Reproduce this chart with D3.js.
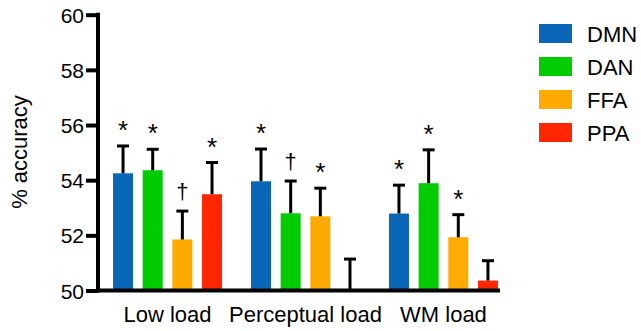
<!DOCTYPE html>
<html>
<head>
<meta charset="utf-8">
<script src="https://cdn.jsdelivr.net/npm/d3@7"></script>
<style>
  body { margin: 0; background: #fff; }
  text { font-family: "Liberation Sans", Arial, sans-serif; fill: #000; }
</style>
</head>
<body>
<div id="chart"></div>
<script>
// data
var groups = ['Low load', 'Perceptual load', 'WM load']
var regions = ['DMN', 'DAN', 'FFA', 'PPA']
var colors = ['#0a66b6', '#00cc00', '#ffaa00', '#ff2600']
var means = [
  [54.25, 54.36, 51.85, 53.49],
  [53.96, 52.80, 52.69, 50.00],
  [52.79, 53.89, 51.93, 50.36]
]
var errs = [
  [0.99, 0.76, 1.03, 1.15],
  [1.17, 1.17, 1.02, 1.14],
  [1.03, 1.21, 0.82, 0.72]
]
var marks = [
  ['*', '*', '\u2020', '*'],
  ['*', '\u2020', '*', ''],
  ['*', '*', '*', '']
]
var yTicks = [50, 52, 54, 56, 58, 60]

var width = 641
var height = 331

var svg = d3.select('#chart').append('svg')
  .attr('width', width)
  .attr('height', height)

var yScale = d3.scaleLinear()
  .domain([50, 60])
  .range([290.5, 14.7])

var xGroup = d3.scaleBand()
  .domain(groups)
  .range([98, 513])
  .paddingInner(0.21)
  .paddingOuter(0.109)

var xInner = d3.scaleBand()
  .domain(regions)
  .range([0, xGroup.bandwidth()])
  .paddingInner(0.326)
  .paddingOuter(0)

var rows = []
groups.forEach(function(g, gi) {
  regions.forEach(function(r, ri) {
    rows.push({ group: g, region: r, color: colors[ri], mean: means[gi][ri], err: errs[gi][ri], mark: marks[gi][ri] })
  })
})

var bx = function(d) { return xGroup(d.group) + xInner(d.region) }
var cx = function(d) { return bx(d) + xInner.bandwidth() / 2 }

// bars
svg.append('g').selectAll('rect')
  .data(rows)
  .enter().append('rect')
  .attr('x', bx)
  .attr('y', d => yScale(d.mean))
  .attr('width', xInner.bandwidth())
  .attr('height', d => yScale(50) - yScale(d.mean))
  .attr('fill', d => d.color)

// error bars (upper only)
var eb = svg.append('g').attr('stroke', '#000').attr('stroke-width', 3)
eb.selectAll('line.stem')
  .data(rows)
  .enter().append('line')
  .attr('class', 'stem')
  .attr('x1', cx).attr('x2', cx)
  .attr('y1', d => yScale(d.mean))
  .attr('y2', d => yScale(d.mean + d.err))
eb.selectAll('line.cap')
  .data(rows)
  .enter().append('line')
  .attr('class', 'cap')
  .attr('x1', d => cx(d) - 6).attr('x2', d => cx(d) + 6)
  .attr('y1', d => yScale(d.mean + d.err))
  .attr('y2', d => yScale(d.mean + d.err))

// significance marks
svg.append('g').selectAll('text')
  .data(rows.filter(d => d.mark))
  .enter().append('text')
  .attr('x', cx)
  .attr('y', d => yScale(d.mean + d.err) - (d.mark === '*' ? 7 : 12))
  .attr('text-anchor', 'middle')
  .style('font-size', d => d.mark === '*' ? '26px' : '22px')
  .text(d => d.mark)

// y axis
var yAxis = d3.axisLeft(yScale)
  .tickValues(yTicks)
  .tickSize(12)
  .tickPadding(2)
  .tickFormat(d3.format('d'))

var yG = svg.append('g')
  .attr('transform', 'translate(98,0)')
  .call(yAxis)
yG.select('.domain').remove()
yG.selectAll('.tick line').attr('stroke', '#000').attr('stroke-width', 4)
yG.selectAll('.tick text')
  .attr('dy', '0.36em')
  .style('font-size', '21px')
  .style('font-family', '"Liberation Sans", Arial, sans-serif')

svg.append('line')
  .attr('x1', 98).attr('x2', 98)
  .attr('y1', yScale(60) - 2).attr('y2', yScale(50) + 2)
  .attr('stroke', '#000').attr('stroke-width', 4)

// x axis line
svg.append('line')
  .attr('x1', 96).attr('x2', 500)
  .attr('y1', yScale(50)).attr('y2', yScale(50))
  .attr('stroke', '#000').attr('stroke-width', 4)

// group labels
svg.append('g').selectAll('text')
  .data(groups)
  .enter().append('text')
  .attr('x', d => xGroup(d) + xGroup.bandwidth() / 2)
  .attr('y', 322)
  .attr('text-anchor', 'middle')
  .style('font-size', '22px')
  .text(d => d)

// y title
svg.append('text')
  .attr('transform', 'translate(27,152) rotate(-90)')
  .attr('text-anchor', 'middle')
  .style('font-size', '22px')
  .text('% accuracy')

// legend
var leg = svg.append('g').selectAll('g')
  .data(regions)
  .enter().append('g')
  .attr('transform', (d, i) => 'translate(539,' + (24 + i * 33) + ')')
leg.append('rect')
  .attr('width', 33).attr('height', 19)
  .attr('fill', (d, i) => colors[i])
leg.append('text')
  .attr('x', 48).attr('y', 18)
  .style('font-size', '22px')
  .text(d => d)
</script>
</body>
</html>
